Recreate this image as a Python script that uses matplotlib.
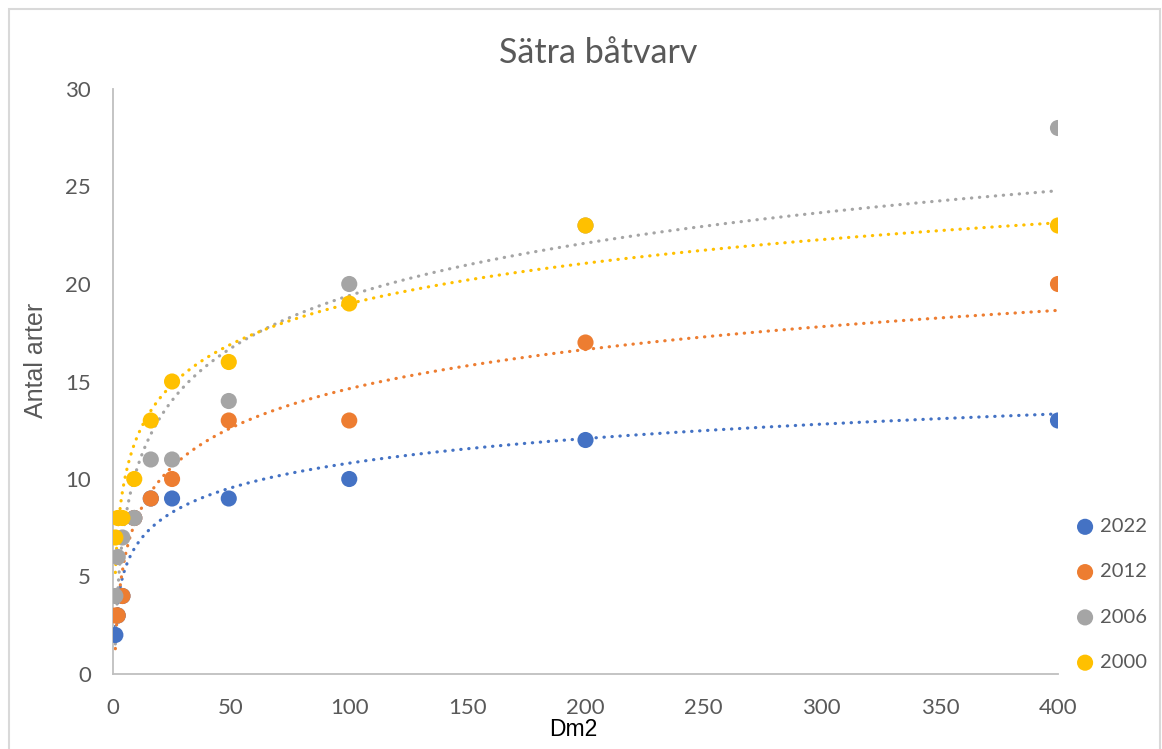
import numpy as np
import matplotlib.pyplot as plt
from matplotlib.patches import Rectangle

# ── Data ─────────────────────────────────────────────────────────────────────
AREA_DM2 = [1, 2, 4, 9, 16, 25, 49, 100, 200, 400]
YEARS = ["2022", "2012", "2006", "2000"]
SPECIES_2022 = [2, 3, 4, 8, 9, 9, 9, 10, 12, 13]
SPECIES_2012 = [3, 3, 4, 8, 9, 10, 13, 13, 17, 20]
SPECIES_2006 = [4, 6, 7, 8, 11, 11, 14, 20, 23, 28]
SPECIES_2000 = [7, 8, 8, 10, 13, 15, 16, 19, 23, 23]
COLORS = ["#4472C4", "#ED7D31", "#A5A5A5", "#FFC000"]

X_TICKS = list(range(0, 401, 50))
Y_TICKS = list(range(0, 31, 5))

TEXT_GREY = "#595959"
AXIS_GREY = "#BFBFBF"

fig = plt.figure(figsize=(11.62, 7.49), dpi=100)
ax = fig.add_axes([113 / 1162, 1 - 674 / 749, (1058 - 113) / 1162, (674 - 89) / 749])

series = [SPECIES_2022, SPECIES_2012, SPECIES_2006, SPECIES_2000]
x = np.array(AREA_DM2, dtype=float)
x_fit = np.linspace(x.min(), x.max(), 2000)

# logarithmic trend lines first, markers on top
for ys, col in zip(series, COLORS):
    a, b = np.polyfit(np.log(x), np.array(ys, dtype=float), 1)
    ax.plot(x_fit, a * np.log(x_fit) + b, color=col, linewidth=2.3,
            linestyle=(0, (0.1, 2.4)), dash_capstyle="round", zorder=2)

for ys, col, lab in zip(series, COLORS, YEARS):
    ax.scatter(AREA_DM2, ys, s=135, color=col, edgecolors="none", label=lab, zorder=3)

ax.set_xlim(0, 400)
ax.set_ylim(0, 30)
ax.set_xticks(X_TICKS)
ax.set_yticks(Y_TICKS)
ax.tick_params(length=0, labelsize=16, colors=TEXT_GREY)
ax.tick_params(axis="y", pad=16)
ax.tick_params(axis="x", pad=17)
for lbl in ax.get_xticklabels() + ax.get_yticklabels():
    lbl.set_fontfamily("Lato")

for side in ["top", "right"]:
    ax.spines[side].set_visible(False)
for side in ["left", "bottom"]:
    ax.spines[side].set_color(AXIS_GREY)
    ax.spines[side].set_linewidth(1.3)

fig.text(598 / 1162, 1 - 53 / 749, "Sätra båtvarv", fontsize=24.5, color=TEXT_GREY,
         family="Lato", ha="center", va="center")
ax.set_ylabel("Antal arter", fontsize=18, color=TEXT_GREY, family="Liberation Sans")
ax.yaxis.set_label_coords((36 - 113) / 945, (674 - 360) / 585)
ax.set_xlabel("Dm2", fontsize=16.5, color="black", family="Liberation Sans")
ax.xaxis.set_label_coords((573 - 113) / 945, -(729 - 674) / 585)
ax.xaxis.label.set_va("center")
ax.yaxis.label.set_va("center")

ax.legend(loc="upper left", bbox_to_anchor=(1075 / 1162, 1 - 518 / 749),
          bbox_transform=fig.transFigure, frameon=False, handlelength=1.0,
          handletextpad=0.25, labelspacing=1.4, prop={"family": "Lato", "size": 14.5},
          labelcolor=TEXT_GREY, borderaxespad=0, borderpad=0)

# light chart-area frame
fig.add_artist(Rectangle((9 / 1162, -0.01), 1151 / 1162, 1 - 9 / 749 + 0.01,
                         transform=fig.transFigure, fill=False,
                         edgecolor="#D9D9D9", linewidth=1.5))

fig.savefig("out.png", dpi=100)
